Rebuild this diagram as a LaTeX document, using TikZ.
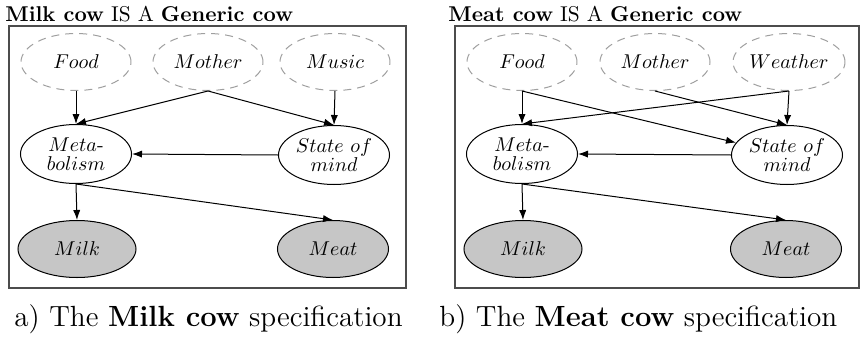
\documentclass[tikz,border=0pt]{standalone}
\usetikzlibrary{shapes.geometric,arrows.meta}
\begin{document}
\begin{tikzpicture}[x=0.5pt,y=-0.5pt,
  base/.style={ellipse, inner sep=0pt, align=center, font=\fontsize{10pt}{9.3pt}\selectfont},
  hid/.style={base, draw=gray!75, line width=0.5pt, dash pattern=on 4pt off 3pt, minimum width=55pt, minimum height=28.5pt},
  mid/.style={base, draw=black, line width=0.5pt, minimum width=55.5pt, minimum height=29.5pt},
  obs/.style={base, draw=black, line width=0.5pt, fill=gray!45, minimum width=57pt, minimum height=28.5pt},
  frame/.style={draw=black!70, line width=0.6pt},
  arr/.style={-{Latex[length=5pt,width=3.6pt]}, line width=0.5pt},
  ttl/.style={anchor=base west, inner sep=0pt, font=\fontsize{10.7pt}{12pt}\selectfont},
  capt/.style={anchor=base west, inner sep=0pt, font=\fontsize{14.6pt}{17pt}\selectfont}
]
\useasboundingbox (0,0) rectangle (864,338);

% ---------- left panel ----------
\node[ttl] (ltitle) at (5,21.5) {\textbf{Milk cow} IS A \textbf{Generic cow}};
\draw[frame] (9,26) rectangle (406,288);
\node[hid] (lfood)   at (76,62)  {$Food$};
\node[hid] (lmother) at (208,62) {$Mother$};
\node[hid] (lmusic)  at (335,62) {$Music$};
\node[mid] (lmeta)   at (76,154) {$Meta$-\\$bolism$};
\node[mid] (lstate)  at (334,155) {$State\ of$\\$mind$};
\node[obs, minimum width=59pt] (lmilk) at (77,249) {$Milk$};
\node[obs, minimum width=55.5pt] (lmeat) at (333,249) {$Meat$};
\draw[arr] (lfood.south) -- (lmeta.north);
\draw[arr] (lmother.south) -- (lmeta.north);
\draw[arr] (lmother.south) -- (lstate.north);
\draw[arr] (lmusic.south) -- (lstate.north);
\draw[arr] (lstate.west) -- (lmeta.east);
\draw[arr] (lmeta.south) -- (lmilk.north);
\draw[arr] (lmeta.south) -- (lmeat.north);
\node[capt] (lcap) at (14,326.5) {a) The \textbf{Milk cow} specification};

% ---------- right panel ----------
\node[ttl] (rtitle) at (448,21.5) {\textbf{Meat cow} IS A \textbf{Generic cow}};
\draw[frame] (455,26) rectangle (859,288);
\node[hid] (rfood)    at (522,62) {$Food$};
\node[hid] (rmother)  at (655,62) {$Mother$};
\node[hid] (rweather) at (789,62) {$Weather$};
\node[mid] (rmeta)    at (522,154) {$Meta$-\\$bolism$};
\node[mid] (rstate)   at (787,155) {$State\ of$\\$mind$};
\node[obs, minimum width=59pt] (rmilk) at (523,249) {$Milk$};
\node[obs, minimum width=55.5pt] (rmeat) at (786,249) {$Meat$};
\draw[arr] (rfood.south) -- (rmeta.north);
\draw[arr] (rfood.south) -- (rstate);
\draw[arr] (rmother.south) -- (rstate.north);
\draw[arr] (rweather.south) -- (rmeta.north);
\draw[arr] (rweather.south) -- (rstate.north);
\draw[arr] (rstate.west) -- (rmeta.east);
\draw[arr] (rmeta.south) -- (rmilk.north);
\draw[arr] (rmeta.south) -- (rmeat.north);
\node[capt] (rcap) at (439,326.5) {b) The \textbf{Meat cow} specification};
\end{tikzpicture}
\end{document}
